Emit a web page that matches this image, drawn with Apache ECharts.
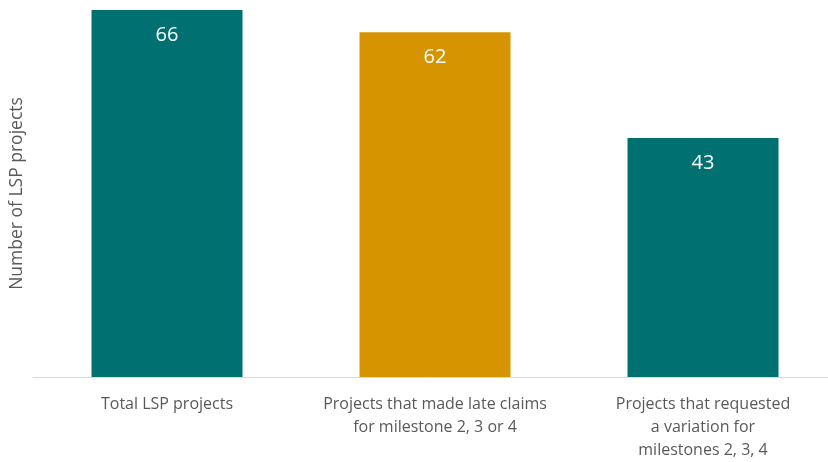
<!DOCTYPE html>
<html>
<head>
<meta charset="utf-8">
<script src="https://cdn.jsdelivr.net/npm/echarts@6/dist/echarts.min.js"></script>
<style>
  html, body { margin: 0; padding: 0; background: #fff; }
  #chart { width: 828px; height: 462px; }
</style>
</head>
<body>
<div id="chart"></div>
<script>
const categories = [
    'Total LSP projects',
    'Projects that made late claims\nfor milestone 2, 3 or 4',
    'Projects that requested\na variation for\nmilestones 2, 3, 4'
];
const values = [66, 62, 43];
const barColors = ['#007070', '#D69500', '#007070'];

const chart = echarts.init(document.getElementById('chart'));
chart.setOption({
    animation: false,
    grid: {
        left: 33,
        right: -9,
        top: 10,
        bottom: 85,
        outerBoundsMode: 'none',
        containLabel: false
    },
    xAxis: {
        type: 'category',
        data: categories,
        axisLine: { lineStyle: { color: '#D9D9D9', width: 1 } },
        axisTick: { show: false },
        axisLabel: {
            interval: 0,
            hideOverlap: false,
            color: '#595959',
            fontFamily: 'Open Sans',
            fontSize: 16,
            lineHeight: 23,
            margin: 16
        }
    },
    yAxis: {
        type: 'value',
        min: 0,
        max: 66,
        name: 'Number of LSP projects',
        nameLocation: 'middle',
        nameGap: 7,
        nameTextStyle: {
            color: '#595959',
            fontFamily: 'Open Sans',
            fontSize: 17.5
        },
        axisLine: { show: false },
        axisTick: { show: false },
        axisLabel: { show: false },
        splitLine: { show: false }
    },
    series: [{
        type: 'bar',
        barWidth: 151,
        data: values.map((v, i) => ({ value: v, itemStyle: { color: barColors[i] } })),
        label: {
            show: true,
            position: 'insideTop',
            distance: 15,
            color: '#fff',
            fontFamily: 'Open Sans',
            fontSize: 20
        }
    }]
});
</script>
</body>
</html>
